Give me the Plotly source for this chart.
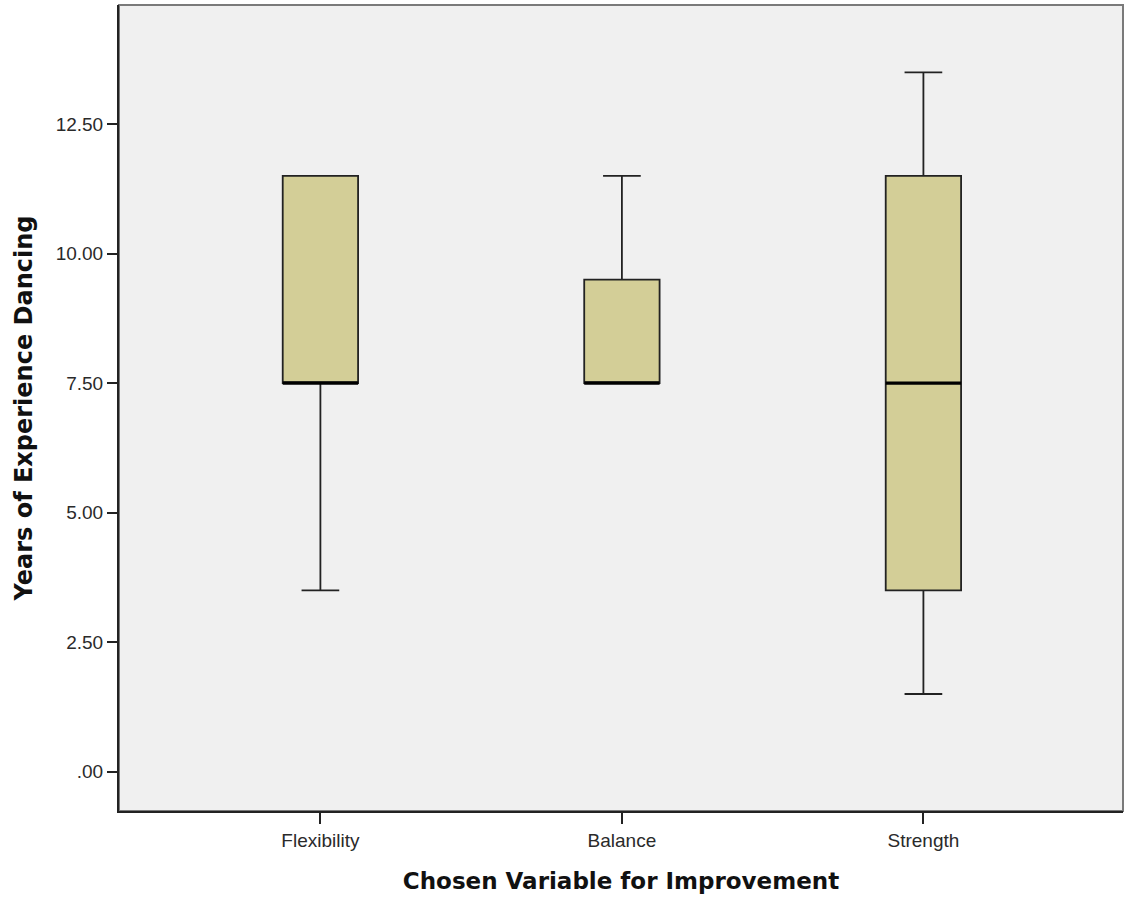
import plotly.graph_objects as go

categories = ["Flexibility", "Balance", "Strength"]
q1 = [7.5, 7.5, 3.5]
median = [7.5, 7.5, 7.5]
q3 = [11.5, 9.5, 11.5]
lower_whisker = [3.5, 7.5, 1.5]
upper_whisker = [11.5, 11.5, 13.5]
ytick_vals = [0, 2.5, 5, 7.5, 10, 12.5]
ytick_text = [".00", "2.50", "5.00", "7.50", "10.00", "12.50"]

BOX_W = 0.25
FILL = "#D3CE97"
LINE = "#222222"
pos = list(range(len(categories)))

fig = go.Figure()
fig.add_trace(go.Box(
    x=pos, q1=q1, median=median, q3=q3,
    lowerfence=lower_whisker, upperfence=upper_whisker,
    width=BOX_W, whiskerwidth=0.5,
    fillcolor=FILL, line=dict(color=LINE, width=1.8),
    boxpoints=False, showlegend=False, hoverinfo="skip",
))
# thick median lines (SPSS style)
for i, m in zip(pos, median):
    fig.add_trace(go.Scatter(
        x=[i - BOX_W / 2, i + BOX_W / 2], y=[m, m], mode="lines",
        line=dict(color="#000000", width=3.2), showlegend=False, hoverinfo="skip",
    ))

fig.update_layout(
    width=1125, height=900,
    margin=dict(l=119, r=2, t=5, b=89),
    paper_bgcolor="white", plot_bgcolor="#F0F0F0",
    font=dict(family="Liberation Sans, Arial, sans-serif", color="#222222"),
    shapes=[dict(type="rect", xref="paper", yref="paper", x0=0, x1=1, y0=0, y1=1,
                 line=dict(color="#7a7a7a", width=2), layer="below")],
)
fig.update_xaxes(
    range=[-0.668, 2.662], tickvals=pos, ticktext=categories,
    showgrid=False, zeroline=False,
    showline=True, linecolor="#222222", linewidth=2,
    ticks="outside", ticklen=11, tickcolor="#222222", tickwidth=1.5,
    tickfont=dict(size=19, color="#2a2a2a"),
    title=dict(text="<b>Chosen Variable for Improvement</b>",
               font=dict(family="DejaVu Sans", size=23, color="#111111"), standoff=23),
)
fig.update_yaxes(
    range=[-0.758, 14.80], tickvals=ytick_vals, ticktext=ytick_text,
    showgrid=False, zeroline=False,
    showline=True, linecolor="#222222", linewidth=2,
    ticks="outside", ticklen=10, tickcolor="#222222", tickwidth=2,
    tickfont=dict(size=19, color="#2a2a2a"),
    title=dict(text="<b>Years of Experience Dancing</b>",
               font=dict(family="DejaVu Sans", size=24, color="#111111"), standoff=16),
)
fig.write_html(
    "out.html",
    config={"displayModeBar": False},
    post_script="document.body.style.margin='0';document.body.style.overflow='hidden';",
)
